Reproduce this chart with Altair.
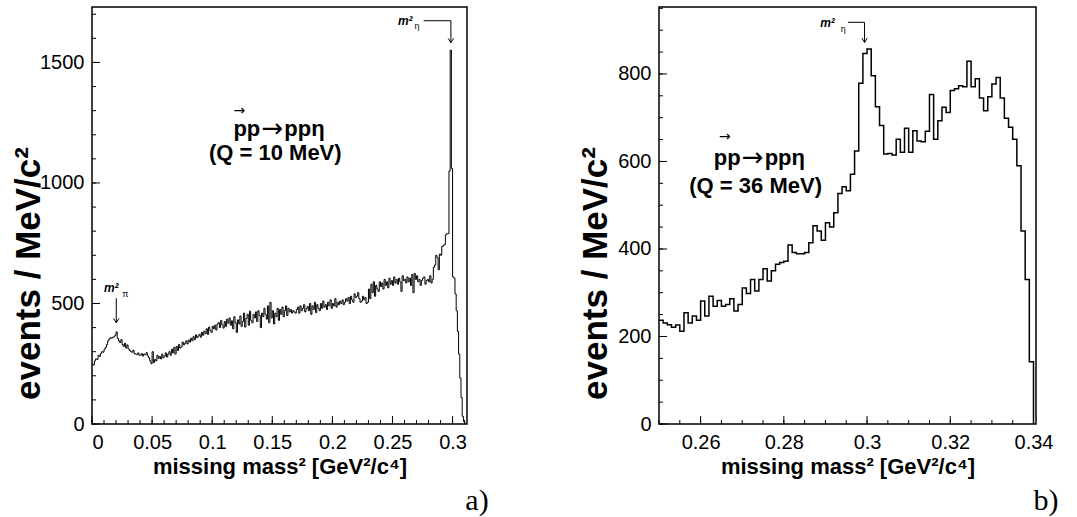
import altair as alt
import pandas as pd

# ---------------- data ----------------
# panel a) : bin width 0.001 GeV^2/c^4 starting at 0
left_start = 0.0
left_bin = 0.001
left_counts = [
    248, 245, 262, 270, 268, 285, 280, 292, 300, 298,
    310, 318, 330, 345, 352, 358, 356, 360, 362, 368,
    382, 355, 345, 338, 350, 330, 322, 335, 315, 328,
    312, 305, 300, 298, 306, 292, 290, 288, 295, 285,
    286, 292, 282, 290, 288, 296, 282, 275, 262, 250,
    300, 255, 268, 262, 285, 272, 280, 270, 290, 275,
    282, 295, 278, 290, 300, 285, 310, 295, 318, 290,
    322, 305, 330, 315, 320, 340, 328, 335, 345, 332,
    348, 340, 356, 345, 362, 350, 370, 358, 365, 372,
    360, 380, 368, 385, 375, 395, 372, 402, 388, 380,
    405, 395, 410, 390, 415, 420, 400, 430, 412, 398,
    425, 405, 435, 418, 440, 410, 428, 395, 445, 420,
    380, 432, 415, 448, 405, 425, 460, 402, 438, 455,
    410, 468, 430, 420, 455, 440, 465, 425, 470, 450,
    400, 460, 445, 480, 455, 435, 490, 420, 505, 440,
    470, 415, 460, 445, 480, 430, 475, 455, 485, 445,
    470, 490, 450, 480, 465, 475, 460, 470, 465, 460,
    475, 485, 460, 490, 470, 480, 495, 465, 478, 488,
    470, 500, 455, 490, 475, 505, 462, 495, 480, 470,
    500, 480, 510, 485, 495, 475, 505, 490, 515, 480,
    500, 490, 520, 485, 505, 495, 510, 500, 515, 495,
    505, 520, 510, 525, 500, 530, 515, 505, 540, 525,
    530, 545, 520, 505, 510, 530, 515, 525, 500, 505,
    560, 520, 580, 545, 590, 530, 575, 560, 550, 590,
    570, 585, 560, 600, 575, 590, 565, 605, 580, 595,
    575, 610, 585, 600, 580, 605, 590, 550, 615, 595,
    600, 585, 610, 590, 605, 575, 620, 545, 625, 600,
    615, 590, 600, 575, 595, 605, 610, 580, 595, 600,
    590, 615, 585, 600, 650, 660, 700, 690, 640, 705,
    700, 736, 740, 745, 785, 790, 790, 1050, 1551, 1060,
    610, 605, 540, 470, 384, 290, 191, 110, 32, 10,
]

# panel b) : bin width 0.001 GeV^2/c^4 starting at 0.25
right_start = 0.25
right_bin = 0.001
right_counts = [
    237, 231, 227, 221, 226, 212, 254, 231, 247, 237,
    281, 247, 292, 269, 282, 269, 273, 286, 258, 273,
    311, 298, 330, 304, 330, 355, 327, 350, 365, 369,
    372, 409, 392, 389, 389, 392, 414, 453, 441, 420,
    460, 450, 483, 527, 542, 533, 571, 624,
    779, 847, 857,
    796, 725, 682, 617, 618, 615, 651, 621, 676,
    621, 670, 647, 645, 669, 753, 651, 693, 724, 712,
    762, 766, 773, 771, 829, 771, 789, 745, 716, 748,
    777, 792, 745, 699, 678, 651, 590, 441, 330, 142,
]

left_x_labels = [0, 0.05, 0.1, 0.15, 0.2, 0.25, 0.3]
left_x_minor = [i / 100 for i in range(0, 32)]
left_y_labels = [0, 500, 1000, 1500]
left_y_minor = [i * 100 for i in range(0, 18)]

right_x_labels = [0.26, 0.28, 0.3, 0.32, 0.34]
right_x_minor = [0.25 + i * 0.005 for i in range(0, 19)]
right_y_labels = [0, 200, 400, 600, 800]
right_y_minor = [i * 50 for i in range(0, 20)]

x_title = "missing mass² [GeV²/c⁴]"
y_title = "events / MeV/c²"
reaction_a, reaction_arrow, reaction_b = "pp", "→", "ppη"
left_q = "(Q = 10 MeV)"
right_q = "(Q = 36 MeV)"

FONT = "Liberation Sans"
W_L, W_R, H = 375, 377, 417


def hist_frame(start, width, counts):
    n = len(counts)
    xs = [start + i * width for i in range(n)] + [start + n * width]
    ys = list(counts) + [0]
    return pd.DataFrame({"x": xs, "y": ys})


def panel(df, xdom, ydom, xlab, xmin, ylab, ymin, W, title_y, ann, label, lpos, lw):
    xs = alt.Scale(domain=xdom, nice=False, zero=False)
    ys = alt.Scale(domain=ydom, nice=False, zero=False)
    xax = alt.Axis(values=xlab, format="~g", title=x_title, titleFontSize=22,
                   labelPadding=8, titlePadding=4)
    yax = alt.Axis(values=ylab, format="d", title=y_title, titleFontSize=35,
                   labelPadding=8, titleX=-46, titleY=title_y)

    def X(f):
        return alt.X(f, scale=xs, axis=xax, title=x_title)

    def Y(f):
        return alt.Y(f, scale=ys, axis=yax, title=y_title)

    hist = alt.Chart(df).mark_line(
        interpolate="step-after", color="black", strokeWidth=lw
    ).encode(x=X("x:Q"), y=Y("y:Q"))

    def xticks(vals, ln):
        return alt.Chart(pd.DataFrame({"x": vals})).mark_rule(
            color="black", strokeWidth=1).encode(
            x=X("x:Q"), y=alt.value(H), y2=alt.value(H - ln))

    def yticks(vals, ln):
        return alt.Chart(pd.DataFrame({"y": vals})).mark_rule(
            color="black", strokeWidth=1).encode(
            y=Y("y:Q"), x=alt.value(0), x2=alt.value(ln))

    layers = [hist, xticks(xmin, 4), xticks(xlab, 8), yticks(ymin, 4), yticks(ylab, 8)]

    seg = pd.DataFrame(ann["segments"], columns=["x", "y", "x2", "y2"])
    layers.append(alt.Chart(seg).mark_rule(color="black", strokeWidth=1).encode(
        x=X("x:Q"), x2="x2:Q", y=Y("y:Q"), y2="y2:Q"))
    heads = pd.DataFrame(ann["heads"], columns=["x", "y"])
    layers.append(alt.Chart(heads).mark_point(
        shape="M-1,-1.6L0,0L1,-1.6", filled=False, color="black",
        strokeWidth=1, size=30, opacity=1).encode(x=X("x:Q"), y=Y("y:Q")))

    for txt, x, y, size, style, weight, font, align, dx in ann["texts"]:
        layers.append(alt.Chart(pd.DataFrame({"x": [x], "y": [y], "t": [txt]})).mark_text(
            font=font, fontSize=size, fontStyle=style, fontWeight=weight,
            color="black", align=align, baseline="middle", dx=dx).encode(
            x=X("x:Q"), y=Y("y:Q"), text="t:N"))

    layers.append(alt.Chart(pd.DataFrame({"t": [label]})).mark_text(
        font="Liberation Serif", fontSize=30, color="black", align="center",
        baseline="middle").encode(x=alt.value(lpos[0]), y=alt.value(lpos[1]),
                                  text="t:N"))

    return alt.layer(*layers).properties(width=W, height=H)


def reaction_texts(x, y, qtext, qy, ax, ay):
    return [
        (reaction_a, x, y, 22, "normal", "bold", FONT, "right", -12),
        (reaction_arrow, x, y, 26, "normal", "normal", "DejaVu Sans", "center", 0),
        (reaction_b, x, y, 22, "normal", "bold", FONT, "left", 12),
        (qtext, x, qy, 22, "normal", "bold", FONT, "center", 3),
        ("→", ax, ay, 14, "normal", "normal", "DejaVu Sans", "center", 0),
    ]


left_ann = {
    "segments": [
        (0.0202, 522, 0.0202, 420),
        (0.2759, 1673, 0.2986, 1673),
        (0.2986, 1673, 0.2986, 1582),
    ],
    "heads": [(0.0202, 420), (0.2986, 1582)],
    "texts": [
        ("m²", 0.0160, 563, 12, "italic", "bold", FONT, "center", 0),
        ("π", 0.0277, 538, 9, "normal", "normal", FONT, "center", 0),
        ("m²", 0.2606, 1670, 12, "italic", "bold", FONT, "center", 0),
        ("η", 0.2703, 1650, 9, "normal", "normal", FONT, "center", 0),
    ] + reaction_texts(0.150, 1225, left_q, 1123, 0.1225, 1300),
}

right_ann = {
    "segments": [
        (0.2954, 918, 0.2994, 918),
        (0.2994, 918, 0.2994, 872),
    ],
    "heads": [(0.2994, 872)],
    "texts": [
        ("m²", 0.2905, 917, 12, "italic", "bold", FONT, "center", 0),
        ("η", 0.2943, 903, 9, "normal", "normal", FONT, "center", 0),
    ] + reaction_texts(0.2725, 608, right_q, 544, 0.2658, 656),
}

left = panel(hist_frame(left_start, left_bin, left_counts), [0, 0.312], [0, 1730],
             left_x_labels, left_x_minor, left_y_labels, left_y_minor, W_L, 266,
             left_ann, "a)", (385, 494), 1.0)
right = panel(hist_frame(right_start, right_bin, right_counts), [0.25, 0.3406], [0, 953],
              right_x_labels, right_x_minor, right_y_labels, right_y_minor, W_R, 266,
              right_ann, "b)", (387, 494), 1.5)

chart = alt.hconcat(left, right, spacing=192, bounds="flush").properties(
    padding={"left": 10, "top": 6, "right": 5, "bottom": 0}
).configure_axis(
    labelFont=FONT, labelFontSize=20, labelColor="black",
    titleFont=FONT, titleFontWeight="bold", titleColor="black",
    ticks=False, domain=False, grid=False,
).configure_view(stroke="black", strokeWidth=1.5)

chart.save("out.html", embed_options={"renderer": "svg", "actions": False})
